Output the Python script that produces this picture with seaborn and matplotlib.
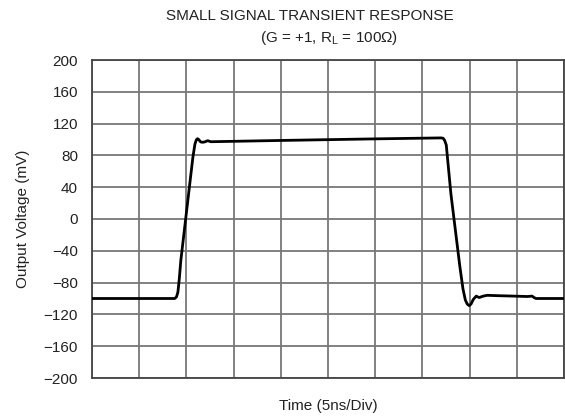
import matplotlib
matplotlib.use("Agg")
import matplotlib.pyplot as plt
import seaborn as sns
import pandas as pd
import numpy as np

sns.set_style("white")
plt.rcParams['font.family'] = ['Liberation Sans', 'DejaVu Sans']
plt.rcParams['mathtext.fontset'] = 'custom'
plt.rcParams['mathtext.rm'] = 'Liberation Sans'
plt.rcParams['mathtext.it'] = 'Liberation Sans'

# Trace data (time in ns, output in mV)
time_ns = [0.0, 8.77, 8.95, 9.10, 9.25, 9.41, 10.68, 10.90, 11.05, 11.17, 11.30, 11.50, 11.71,
           11.95, 12.26, 12.58, 20.0, 30.0, 37.00, 37.20, 37.35, 37.53, 38.02, 38.97, 39.30,
           39.55, 39.75, 39.96, 40.15, 40.40, 40.70, 41.01, 41.44, 41.86, 43.13, 44.71, 46.09,
           46.62, 46.85, 47.04, 50.0]
output_mv = [-100, -100, -98, -92, -75, -52, 77, 94, 99.5, 101, 100, 97, 96.5,
             97, 98.5, 97.2, 98.8, 100.8, 102, 101.5, 99, 93, 31.6, -60, -88,
             -102, -107, -109, -107, -101, -97, -98.8, -97, -96, -96.5, -97, -97.5,
             -97, -99, -100, -100]

y_ticks = [-200, -160, -120, -80, -40, 0, 40, 80, 120, 160, 200]
x_divs = [0, 5, 10, 15, 20, 25, 30, 35, 40, 45, 50]

df = pd.DataFrame({"t": time_ns, "v": output_mv})

fig = plt.figure(figsize=(5.65, 4.17), dpi=100)
ax = fig.add_axes([92/565, (417-378)/417, (564-92)/565, (378-60)/417])

sns.lineplot(data=df, x="t", y="v", ax=ax, color="black", linewidth=2.0, zorder=3,
             solid_joinstyle='round', solid_capstyle='round')

ax.set_xlim(0, 50)
ax.set_ylim(-200, 200)
ax.set_yticks(y_ticks)
ax.set_yticklabels([str(v).replace('-', '\u2212') for v in y_ticks])
ax.set_xticks(x_divs)
ax.set_xticklabels([])
ax.tick_params(axis='both', length=0, labelsize=11, colors='#222222', pad=10)
ax.grid(True, color='#777777', linewidth=1.3)
for s in ax.spines.values():
    s.set_color('#444444')
    s.set_linewidth(1.3)

ax.set_xlabel("Time (5ns/Div)", fontsize=11, color='#222222', labelpad=5)
ax.set_ylabel("Output Voltage (mV)", fontsize=11, color='#222222', labelpad=10)

fig.text(310/565, 1 - 15.5/417, "SMALL SIGNAL TRANSIENT RESPONSE", ha='center', va='center',
         fontsize=11, color='#222222')
fig.text(329/565, 1 - 38/417, r"(G = +1, R$_\mathrm{L}$ = 100Ω)", ha='center', va='center',
         fontsize=11, color='#222222')

fig.savefig("out.png", dpi=100)
